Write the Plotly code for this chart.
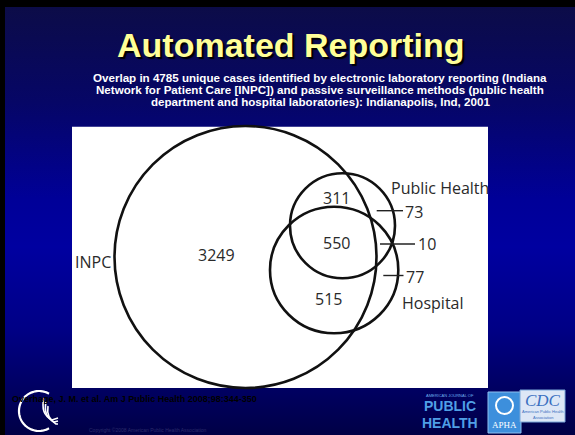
import base64
import numpy as np
import plotly.graph_objects as go

# ---------------- data ----------------
set_names = ["INPC", "Public Health", "Hospital"]
region_names = ["INPC only", "INPC & Public Health", "All three",
                "INPC & Hospital", "Public Health only",
                "Public Health & Hospital", "Hospital only"]
region_counts = [3249, 311, 550, 515, 73, 10, 77]

title_text = "Automated Reporting"
subtitle_lines = [
    "Overlap in 4785 unique cases identified by electronic laboratory reporting (Indiana",
    "Network for Patient Care [INPC]) and passive surveillance methods (public health",
    "department and hospital laboratories): Indianapolis, Ind, 2001",
]
citation = "Overhage, J. M. et al. Am J Public Health 2008;98:344-350"
copyright_text = "Copyright \u00a92008 American Public Health Association"

# ---------------- layout (pixel space) ----------------
W, H = 575, 435
circle_boxes = {  # x0, y0, x1, y1
    "INPC": (114.5, 126.0, 376.5, 388.0),
    "Public Health": (290.0, 173.3, 395.0, 278.3),
    "Hospital": (270.0, 206.7, 398.3, 333.3),
}
set_label_pos = {"INPC": (73, 262), "Public Health": (389, 188), "Hospital": (400, 302.5)}
inside_pos = [(216.7, 255), (336.7, 198), (336.7, 243), (328.3, 298.5)]
outside_pos = [(403, 211.5), (416, 243.5), (404, 276.5)]
leaders = [((376.7, 210.7), (403.0, 210.7)), ((380.0, 244.0), (415.0, 244.0)),
           ((383.3, 275.5), (403.5, 275.5))]

fig = go.Figure()

# background gradient as an svg image
svg = ('<svg xmlns="http://www.w3.org/2000/svg" width="570" height="428" preserveAspectRatio="none">'
       '<defs><linearGradient id="g" x1="0" y1="0" x2="0" y2="1">'
       '<stop offset="0" stop-color="#0c0c48"/>'
       '<stop offset="0.22" stop-color="#060666"/>'
       '<stop offset="0.45" stop-color="#000098"/>'
       '<stop offset="0.56" stop-color="#0000a0"/>'
       '<stop offset="0.75" stop-color="#000086"/>'
       '<stop offset="1" stop-color="#000046"/>'
       '</linearGradient></defs><rect width="570" height="428" fill="url(#g)"/></svg>')
src = "data:image/svg+xml;base64," + base64.b64encode(svg.encode()).decode()

shapes = []
# white panel
shapes.append(dict(type="rect", x0=72, x1=488, y0=126.7, y1=388, fillcolor="white",
                   line=dict(width=0), layer="below"))
# circles
for name in set_names:
    x0, y0, x1, y1 = circle_boxes[name]
    shapes.append(dict(type="circle", x0=x0, x1=x1, y0=y0, y1=y1,
                       line=dict(color="#111111", width=2.6)))
# leader lines
for (a, b) in leaders:
    shapes.append(dict(type="line", x0=a[0], y0=a[1], x1=b[0], y1=b[1],
                       line=dict(color="#222222", width=1.4)))

# HHS logo (broken ring + eagle strokes)
cx, cy, r = 39, 411, 20
th = np.radians(np.linspace(60, 300, 60))
pts = [(cx + r * np.cos(t), cy - r * np.sin(t)) for t in th]
path = "M " + " L ".join(f"{x:.1f},{y:.1f}" for x, y in pts)
shapes.append(dict(type="path", path=path, line=dict(color="white", width=2.2)))
for k in range(3):
    shapes.append(dict(type="path",
                       path=(f"M {44 + 2*k},{398 + 4*k} Q {40 + 3*k},{414 + 2*k} "
                             f"{52 + 2*k},{420 + 2*k} L {58},{418 + 3*k}"),
                       line=dict(color="white", width=1.6)))

# right logos
shapes.append(dict(type="rect", x0=488, x1=521, y0=392, y1=433, fillcolor="#3d8fdc",
                   line=dict(color="#8ec0f0", width=1)))
shapes.append(dict(type="circle", x0=496, x1=513, y0=397, y1=414, fillcolor="#3d8fdc",
                   line=dict(color="white", width=2)))
shapes.append(dict(type="rect", x0=520, x1=565, y0=390, y1=422, fillcolor="#dde7f6",
                   line=dict(color="#7aa7d9", width=1)))
shapes.append(dict(type="rect", x0=5, x1=575, y0=0, y1=7, fillcolor="black", line=dict(width=0)))

annotations = []
# title & subtitle
annotations.append(dict(x=291, y=44.5, text=title_text, showarrow=False, xanchor="center",
                        yanchor="middle",
                        font=dict(family="Liberation Sans", size=34, color="#ffff99",
                                  weight="bold", shadow="2px 2px 1px #000000")))
for i, line in enumerate(subtitle_lines):
    annotations.append(dict(x=320, y=77.5 + 12.2 * i, text=line, showarrow=False,
                            xanchor="center", yanchor="middle",
                            font=dict(family="Liberation Sans", size=11.6, color="white",
                                      weight="bold")))
venn_font = dict(family="Open Sans", size=16, color="#2a2a2a")
for name in set_names:
    x, y = set_label_pos[name]
    annotations.append(dict(x=x, y=y, text=name, showarrow=False, xanchor="left",
                            yanchor="middle", font=venn_font))
for (x, y), v in zip(inside_pos, region_counts[:4]):
    annotations.append(dict(x=x, y=y, text=str(v), showarrow=False, xanchor="center",
                            yanchor="middle", font=venn_font))
for (x, y), v in zip(outside_pos, region_counts[4:]):
    annotations.append(dict(x=x, y=y, text=str(v), showarrow=False, xanchor="left",
                            yanchor="middle", font=venn_font))

# footer
annotations.append(dict(x=10, y=399, text=citation, showarrow=False, xanchor="left",
                        yanchor="middle",
                        font=dict(family="Liberation Sans", size=9, color="#000000",
                                  weight="bold")))
annotations.append(dict(x=87, y=430, text=copyright_text, showarrow=False, xanchor="left",
                        yanchor="middle",
                        font=dict(family="Liberation Sans", size=5, color="#2c2c6c")))
logo_font = dict(family="Liberation Sans", size=14, color="#4f9fe6", weight="bold")
annotations.append(dict(x=450, y=395, text="AMERICAN JOURNAL OF", showarrow=False,
                        font=dict(family="Liberation Sans", size=4, color="#6fb0ee")))
annotations.append(dict(x=450, y=406, text="PUBLIC", showarrow=False, font=logo_font))
annotations.append(dict(x=450, y=423, text="HEALTH", showarrow=False, font=logo_font))
annotations.append(dict(x=504.5, y=425, text="APHA", showarrow=False,
                        font=dict(family="Liberation Serif", size=9, color="white")))
annotations.append(dict(x=542.5, y=400, text="<i>CDC</i>", showarrow=False,
                        font=dict(family="Liberation Serif", size=17, color="#3a6fc0")))
annotations.append(dict(x=542.5, y=411, text="American Public Health", showarrow=False,
                        font=dict(family="Liberation Sans", size=4, color="#3a6fc0")))
annotations.append(dict(x=542.5, y=417, text="Association", showarrow=False,
                        font=dict(family="Liberation Sans", size=4, color="#3a6fc0")))

fig.update_layout(
    width=W, height=H, margin=dict(l=0, r=0, t=0, b=0),
    paper_bgcolor="black", plot_bgcolor="rgba(0,0,0,0)",
    xaxis=dict(range=[0, W], visible=False, fixedrange=True),
    yaxis=dict(range=[H, 0], visible=False, fixedrange=True),
    shapes=shapes, annotations=annotations, showlegend=False,
    images=[dict(source=src, xref="paper", yref="paper", x=5 / W, y=1 - 7 / H,
                 sizex=570 / W, sizey=428 / H, xanchor="left", yanchor="top",
                 sizing="stretch", layer="below")],
)
fig.write_html("out.html", config={"displayModeBar": False},
               post_script="document.body.style.margin='0';document.body.style.overflow='hidden';")
